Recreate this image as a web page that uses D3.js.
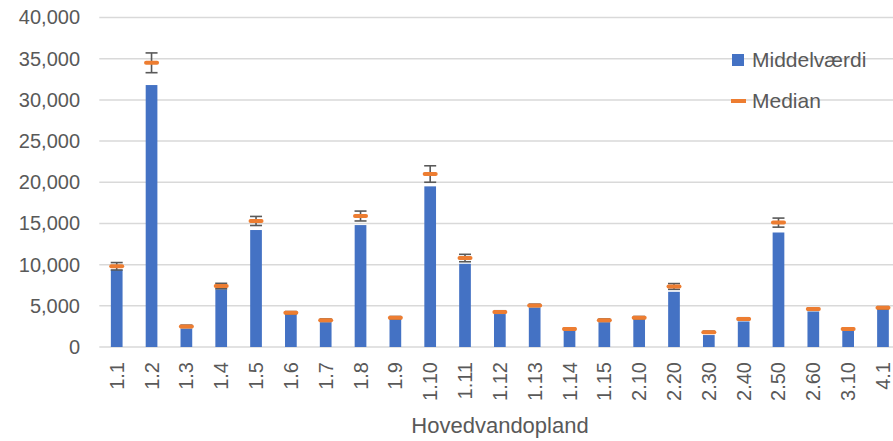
<!DOCTYPE html>
<html>
<head>
<meta charset="utf-8">
<script src="https://cdn.jsdelivr.net/npm/d3@7/dist/d3.min.js"></script>
<style>
  html, body { margin: 0; padding: 0; background: #fff; }
  svg { display: block; }
  text { font-family: "Liberation Sans", Arial, sans-serif; fill: #595959; }
</style>
</head>
<body>
<svg id="chart" width="893" height="441"></svg>
<script>
const categories = ["1.1","1.2","1.3","1.4","1.5","1.6","1.7","1.8","1.9","1.10","1.11","1.12","1.13","1.14","1.15","2.10","2.20","2.30","2.40","2.50","2.60","3.10","4.1"];
const meanValues = [9350, 31800, 2200, 7000, 14200, 3900, 3000, 14800, 3350, 19500, 10100, 4000, 4750, 2000, 3000, 3300, 6700, 1450, 3100, 13900, 4300, 2000, 4500];
const medianValues = [9800, 34500, 2500, 7400, 15300, 4150, 3250, 15900, 3550, 21000, 10800, 4250, 5050, 2200, 3250, 3550, 7350, 1800, 3400, 15100, 4600, 2200, 4750];
const medianErrors = [450, 1200, 150, 330, 550, 150, 150, 600, 150, 1000, 450, 150, 150, 120, 150, 150, 350, 120, 150, 550, 150, 120, 150];
const yTicks = [0, 5000, 10000, 15000, 20000, 25000, 30000, 35000, 40000];
const seriesNames = ["Middelværdi", "Median"];
const xTitle = "Hovedvandopland";

const svg = d3.select("#chart");
const left = 99.3, step = 34.83;
const x = d3.scaleBand().domain(categories)
  .range([left, left + step * categories.length])
  .paddingInner(0.664).paddingOuter(0.332);
const y = d3.scaleLinear().domain([0, 40000]).range([347, 17.5]);
const fmt = d3.format(",");

// gridlines
svg.append("g").selectAll("line").data(yTicks).join("line")
  .attr("x1", left).attr("x2", 900)
  .attr("y1", d => y(d)).attr("y2", d => y(d))
  .attr("stroke", "#d9d9d9").attr("stroke-width", 1.5);

// y axis labels
const yAxis = d3.axisLeft(y).tickValues(yTicks).tickFormat(fmt).tickSize(0).tickPadding(0);
const yg = svg.append("g").attr("transform", "translate(80,0)").call(yAxis);
yg.select(".domain").remove();
yg.selectAll("text").attr("font-size", 20).attr("fill", "#595959")
  .attr("font-family", "Liberation Sans, Arial, sans-serif");

// x axis labels (rotated)
const xAxis = d3.axisBottom(x).tickSize(0).tickPadding(0);
const xg = svg.append("g").attr("transform", "translate(0,347)").call(xAxis);
xg.select(".domain").remove();
xg.selectAll("text")
  .attr("font-size", 20).attr("fill", "#595959")
  .attr("font-family", "Liberation Sans, Arial, sans-serif")
  .attr("transform", "rotate(-90)")
  .attr("text-anchor", "end")
  .attr("x", -15).attr("y", 0).attr("dy", "0.35em");

// bars
svg.append("g").selectAll("rect").data(categories).join("rect")
  .attr("x", d => x(d)).attr("width", x.bandwidth())
  .attr("y", (d, i) => y(meanValues[i]))
  .attr("height", (d, i) => y(0) - y(meanValues[i]))
  .attr("fill", "#4472c4");

// error bars around median
const eg = svg.append("g").attr("stroke", "#595959").attr("stroke-width", 1.6);
categories.forEach((c, i) => {
  const cx = x(c) + x.bandwidth() / 2;
  const top = y(medianValues[i] + medianErrors[i]);
  const bot = y(medianValues[i] - medianErrors[i]);
  eg.append("line").attr("x1", cx).attr("x2", cx).attr("y1", top).attr("y2", bot);
  eg.append("line").attr("x1", cx - 6).attr("x2", cx + 6).attr("y1", top).attr("y2", top);
  eg.append("line").attr("x1", cx - 6).attr("x2", cx + 6).attr("y1", bot).attr("y2", bot);
});

// median markers
svg.append("g").selectAll("line").data(categories).join("line")
  .attr("x1", d => x(d) + x.bandwidth() / 2 - 5.5)
  .attr("x2", d => x(d) + x.bandwidth() / 2 + 5.5)
  .attr("y1", (d, i) => y(medianValues[i]))
  .attr("y2", (d, i) => y(medianValues[i]))
  .attr("stroke", "#ed7d31").attr("stroke-width", 4).attr("stroke-linecap", "round");

// legend
const lg = svg.append("g");
lg.append("rect").attr("x", 732).attr("y", 54).attr("width", 12).attr("height", 12).attr("fill", "#4472c4");
lg.append("text").attr("x", 752).attr("y", 60).attr("dy", "0.35em").attr("font-size", 21).text(seriesNames[0]);
lg.append("line").attr("x1", 731).attr("x2", 746).attr("y1", 101).attr("y2", 101)
  .attr("stroke", "#ed7d31").attr("stroke-width", 4);
lg.append("text").attr("x", 752).attr("y", 101).attr("dy", "0.35em").attr("font-size", 21).text(seriesNames[1]);

// x title
svg.append("text").attr("x", 500).attr("y", 433).attr("text-anchor", "middle")
  .attr("font-size", 22).text(xTitle);
</script>
</body>
</html>
